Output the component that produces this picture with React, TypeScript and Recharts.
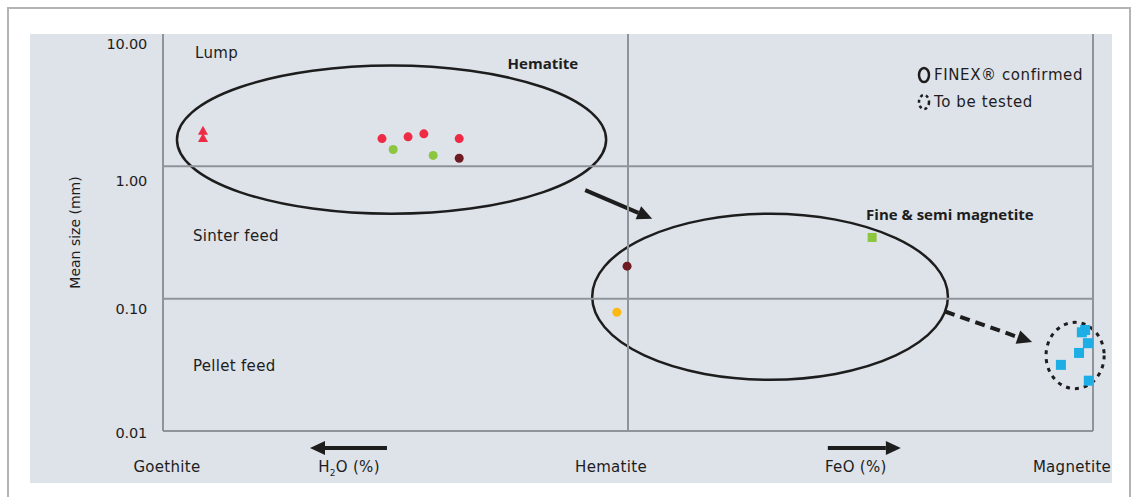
import React from 'react';
import {
  ScatterChart,
  Scatter,
  XAxis,
  YAxis,
  ReferenceLine,
  ReferenceArea,
  ReferenceDot,
} from 'recharts';

// x: 0 = Goethite, 1 = Hematite, 2 = Magnetite ; y: mean size (mm), log scale
const lumpTriangles = [
  { x: 0.086, y: 1.86 },
  { x: 0.086, y: 1.64 },
];
const hematiteRed = [
  { x: 0.471, y: 1.62 },
  { x: 0.527, y: 1.67 },
  { x: 0.561, y: 1.76 },
  { x: 0.637, y: 1.62 },
];
const hematiteGreen = [
  { x: 0.495, y: 1.34 },
  { x: 0.581, y: 1.21 },
];
const darkRed = [
  { x: 0.637, y: 1.15 },
  { x: 0.998, y: 0.176 },
];
const yellow = [{ x: 0.976, y: 0.079 }];
const semiMagnetite = [{ x: 1.525, y: 0.29 }];
const magnetiteBlue = [
  { x: 1.983, y: 0.058 },
  { x: 1.976, y: 0.0557 },
  { x: 1.989, y: 0.0461 },
  { x: 1.97, y: 0.0389 },
  { x: 1.931, y: 0.0316 },
  { x: 1.991, y: 0.024 },
];

const yTicks = [0.01, 0.1, 1, 10];
const yTickLabels = ['0.01', '0.10', '1.00', '10.00'];
const xTicks = [0, 0.4, 1, 1.49, 2];
const xTickLabels = ['Goethite', 'H2O (%)', 'Hematite', 'FeO (%)', 'Magnetite'];

const FONT = '"DejaVu Sans", "Open Sans", sans-serif';
const BOLD_FONT = '"Open Sans", "Liberation Sans", sans-serif';
const GRID = '#8f949b';
const INK = '#1d1d1d';
const TEXT_SIZE = 15;
const TEXT_SPACING = 0.3;

function arrow(x1: number, y1: number, x2: number, y2: number, dashed = false, key?: string) {
  const dx = x2 - x1;
  const dy = y2 - y1;
  const len = Math.sqrt(dx * dx + dy * dy);
  const ux = dx / len;
  const uy = dy / len;
  const head = 15;
  const hw = 7;
  const bx = x2 - ux * head;
  const by = y2 - uy * head;
  return (
    <g key={key}>
      <line
        x1={x1}
        y1={y1}
        x2={bx}
        y2={by}
        stroke={INK}
        strokeWidth={4}
        strokeDasharray={dashed ? '10 6' : undefined}
      />
      <polygon
        points={`${x2},${y2} ${bx - uy * hw},${by + ux * hw} ${bx + uy * hw},${by - ux * hw}`}
        fill={INK}
      />
    </g>
  );
}

const XTick = (props: any) => {
  const { x, y, payload } = props;
  const i = xTicks.indexOf(payload.value);
  const offsets = [4, 0, -17, 0, -21];
  const cx = x + offsets[i];
  const ty = y + 39;
  let text: React.ReactNode = xTickLabels[i];
  if (i === 1) {
    text = (
      <>
        H<tspan fontSize={9} dy={4}>2</tspan>
        <tspan dy={-4}>O (%)</tspan>
      </>
    );
  }
  return (
    <g>
      {i === 1 && arrow(cx + 38, y + 15, cx - 39, y + 15)}
      {i === 3 && arrow(cx - 28, y + 15, cx + 45, y + 15)}
      <text
        x={cx}
        y={ty}
        textAnchor="middle"
        fontSize={TEXT_SIZE}
        letterSpacing={TEXT_SPACING}
        fill={INK}
        fontFamily={FONT}
      >
        {text}
      </text>
    </g>
  );
};

const YTick = (props: any) => {
  const { y, payload } = props;
  const i = yTicks.indexOf(payload.value);
  const dys = [2, 10, 15, 10];
  return (
    <text
      x={147}
      y={y + dys[i]}
      textAnchor="end"
      dominantBaseline="central"
      fontSize={14.5}
      fill={INK}
      fontFamily={FONT}
      letterSpacing={-0.2}
    >
      {yTickLabels[i]}
    </text>
  );
};

const circle = (color: string) => (p: any) => (
  <circle cx={p.cx} cy={p.cy} r={4.5} fill={color} />
);
const square = (color: string, s: number) => (p: any) => (
  <rect x={p.cx - s / 2} y={p.cy - s / 2} width={s} height={s} fill={color} />
);
const triangle = (color: string) => (p: any) => (
  <polygon
    points={`${p.cx},${p.cy - 5} ${p.cx + 5},${p.cy + 4} ${p.cx - 5},${p.cy + 4}`}
    fill={color}
  />
);

const ellipse = (dashed: boolean) => (p: any) => (
  <ellipse
    cx={p.x + p.width / 2}
    cy={p.y + p.height / 2}
    rx={p.width / 2}
    ry={p.height / 2}
    fill="none"
    stroke={INK}
    strokeWidth={dashed ? 3 : 2.5}
    strokeDasharray={dashed ? '4 5' : undefined}
  />
);

const arrowArea = (dashed: boolean) => (p: any) =>
  arrow(p.x, p.y, p.x + p.width, p.y + p.height, dashed);

const label = (text: string, bold = false, anchor: 'start' | 'middle' = 'start') => (p: any) => (
  <text
    x={p.cx}
    y={p.cy}
    textAnchor={anchor}
    dominantBaseline="central"
    fontSize={TEXT_SIZE}
    letterSpacing={bold ? 0 : TEXT_SPACING}
    fontWeight={bold ? 700 : 400}
    fill={INK}
    fontFamily={bold ? BOLD_FONT : FONT}
  >
    {text}
  </text>
);

export default function App() {
  return (
    <div style={{ position: 'absolute', left: 0, top: 0, width: 1134, height: 497, overflow: 'hidden', background: '#fff' }}>
      <div
        style={{
          position: 'absolute',
          left: 7,
          top: 7,
          width: 1124,
          height: 520,
          border: '2px solid #b4b4b4',
          boxSizing: 'border-box',
        }}
      />
      <div style={{ position: 'absolute', left: 30, top: 34, width: 1082, height: 449, background: '#dee2e9' }} />
      <div style={{ position: 'absolute', left: 0, top: 0 }}>
        <ScatterChart width={1134} height={497} margin={{ top: 34, right: 41, left: 0, bottom: 0 }}>
          <XAxis
            type="number"
            dataKey="x"
            domain={[0, 2]}
            ticks={xTicks}
            tick={<XTick />}
            axisLine={false}
            tickLine={false}
            tickSize={0}
            height={66}
            allowDataOverflow
          />
          <YAxis
            type="number"
            dataKey="y"
            scale="log"
            domain={[0.01, 10]}
            ticks={yTicks}
            tick={<YTick />}
            axisLine={false}
            tickLine={false}
            width={163}
            allowDataOverflow
            label={{
              value: 'Mean size (mm)',
              angle: -90,
              position: 'insideLeft',
              dx: 70,
              style: { fontSize: 14, fill: INK, fontFamily: FONT, textAnchor: 'middle' },
            }}
          />
          <ReferenceLine y={1} stroke={GRID} strokeWidth={2} />
          <ReferenceLine y={0.1} stroke={GRID} strokeWidth={2} />
          <ReferenceLine y={0.01} stroke={GRID} strokeWidth={2} />
          <ReferenceLine x={0} stroke={GRID} strokeWidth={2} />
          <ReferenceLine x={1} stroke={GRID} strokeWidth={2} />
          <ReferenceLine x={2} stroke={GRID} strokeWidth={2} />

          <ReferenceArea x1={0.03} x2={0.953} y1={0.438} y2={5.77} shape={ellipse(false)} ifOverflow="visible" />
          <ReferenceArea x1={0.923} x2={1.688} y1={0.0244} y2={0.438} shape={ellipse(false)} ifOverflow="visible" />
          <ReferenceArea x1={1.899} x2={2.024} y1={0.0209} y2={0.0662} shape={ellipse(true)} ifOverflow="visible" />
          <ReferenceArea x1={0.908} x2={1.052} y1={0.402} y2={0.662} shape={arrowArea(false)} ifOverflow="visible" />
          <ReferenceArea x1={1.682} x2={1.869} y1={0.047} y2={0.08} shape={arrowArea(true)} ifOverflow="visible" />

          <ReferenceDot x={0.069} y={7.2} r={0} shape={label('Lump')} ifOverflow="visible" />
          <ReferenceDot x={0.0645} y={0.295} r={0} shape={label('Sinter feed')} ifOverflow="visible" />
          <ReferenceDot x={0.0645} y={0.0311} r={0} shape={label('Pellet feed')} ifOverflow="visible" />
          <ReferenceDot x={0.817} y={6.08} r={0} shape={label('Hematite', true, 'middle')} ifOverflow="visible" />
          <ReferenceDot x={1.512} y={0.438} r={0} shape={label('Fine & semi magnetite', true)} ifOverflow="visible" />

          <Scatter data={lumpTriangles} shape={triangle('#ee2a45')} isAnimationActive={false} />
          <Scatter data={hematiteRed} shape={circle('#ee2a45')} isAnimationActive={false} />
          <Scatter data={hematiteGreen} shape={circle('#8cc63f')} isAnimationActive={false} />
          <Scatter data={darkRed} shape={circle('#6e1c22')} isAnimationActive={false} />
          <Scatter data={yellow} shape={circle('#fdb913')} isAnimationActive={false} />
          <Scatter data={semiMagnetite} shape={square('#8cc63f', 9)} isAnimationActive={false} />
          <Scatter data={magnetiteBlue} shape={square('#1eaee6', 10)} isAnimationActive={false} />
        </ScatterChart>
      </div>
      <svg style={{ position: 'absolute', left: 0, top: 0 }} width={1134} height={497}>
        <ellipse cx={924} cy={75} rx={5} ry={7} fill="none" stroke={INK} strokeWidth={2.5} />
        <text
          x={934}
          y={75}
          dominantBaseline="central"
          fontSize={TEXT_SIZE}
          letterSpacing={0.6}
          fill={INK}
          fontFamily={FONT}
        >
          FINEX® confirmed
        </text>
        <ellipse cx={924} cy={102} rx={5} ry={7} fill="none" stroke={INK} strokeWidth={2.5} strokeDasharray="3 3" />
        <text
          x={934}
          y={102}
          dominantBaseline="central"
          fontSize={TEXT_SIZE}
          letterSpacing={0.6}
          fill={INK}
          fontFamily={FONT}
        >
          To be tested
        </text>
      </svg>
    </div>
  );
}
